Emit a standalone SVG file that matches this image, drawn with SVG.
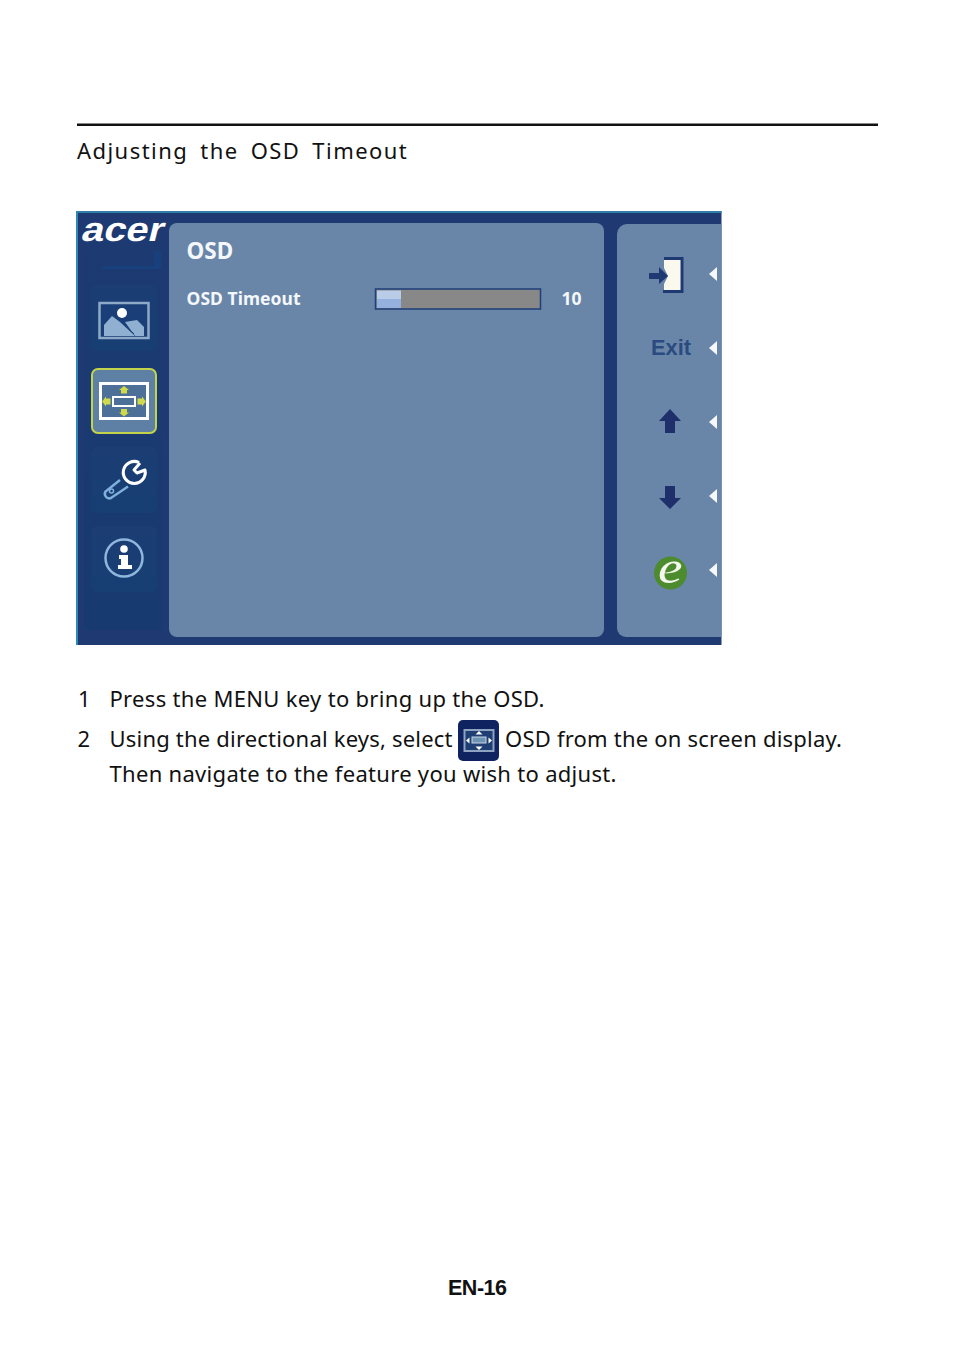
<svg xmlns="http://www.w3.org/2000/svg" width="954" height="1355" viewBox="0 0 954 1355">
<style>
.b{font-family:"Noto Sans","Open Sans",sans-serif;font-size:22px;fill:#111}
.o{font-family:"Noto Sans","Open Sans",sans-serif;font-weight:700;fill:#f4f7fb}
.tri{fill:#f6f8fa}
.dk{fill:#1f3a73}
</style>
<defs>
<linearGradient id="side" x1="0" y1="0" x2="0" y2="1"><stop offset="0" stop-color="#1d3a72"/><stop offset="1" stop-color="#173a70"/></linearGradient>
<linearGradient id="cell" x1="0" y1="0" x2="0" y2="1"><stop offset="0" stop-color="#1b3d74"/><stop offset="1" stop-color="#173f74"/></linearGradient>
</defs>
<rect width="954" height="1355" fill="#fff"/>
<rect x="77" y="123.500" width="801" height="2.500" fill="#111"/>
<text id="title" class="b" x="77" y="159" style="letter-spacing:1.45px;word-spacing:4.9px">Adjusting the OSD Timeout</text>

<g id="osd-window">
<rect x="76" y="211" width="645.500" height="434" fill="#1f3a73"/>
<rect x="76" y="211" width="645.500" height="2" fill="#2f7fa8"/>
<rect x="76" y="211" width="2" height="434" fill="#2a8cb4"/>
<rect x="84" y="222" width="77" height="408" fill="url(#side)"/>
<path d="M154 251h7v18h-60v-3h53Z" fill="#17407c"/>
<rect x="169" y="223" width="435" height="414" rx="8" fill="#6986a8"/>
<path d="M721.500 224H627a10 10 0 0 0-10 10V628a9 9 0 0 0 9 9H721.500Z" fill="#6986a8"/>
</g>

<g id="acer-logo">
<text transform="translate(80 241) skewX(-14)" x="0" y="0" font-family="'Liberation Sans',sans-serif" font-weight="700" font-size="34" fill="#fff" textLength="82" lengthAdjust="spacingAndGlyphs">acer</text>
</g>

<g id="icon-picture">
<rect x="91" y="285" width="66" height="66" rx="6" fill="url(#cell)"/>
<rect x="99.500" y="303" width="49" height="35" fill="#1a3f78" stroke="#8fa9c8" stroke-width="2.500"/>
<circle cx="122" cy="313" r="5" fill="#fff"/>
<path d="M104 336V325L112 316L120 322L134 335V336Z" fill="#8fb0d0"/>
<path d="M125 322L137 320L144 327V336H135Z" fill="#8fb0d0"/>
<path d="M120 320L134 334" fill="none" stroke="#1a3f78" stroke-width="1"/>
</g>

<g id="icon-osd">
<rect x="92" y="369" width="64" height="64" rx="6" fill="#5d80a4" stroke="#c3d44a" stroke-width="2"/>
<rect x="100.500" y="383.500" width="47" height="35" fill="#4c7098" stroke="#fff" stroke-width="3"/>
<rect x="113" y="397" width="22" height="9" fill="none" stroke="#fff" stroke-width="2"/>
<path d="M124 386l5 4-2 0v3.500h-6v-3.500h-2ZM124 416.500l5-4h-2v-3.500h-6v3.500h-2ZM102 401.500l4-5v2h4.500v6h-4.500v2ZM146 401.500l-4-5v2h-4.500v6h4.500v2Z" fill="#cfd94a"/>
</g>

<g id="icon-wrench">
<rect x="91" y="447" width="66" height="66" rx="6" fill="url(#cell)"/>
<path d="M120 480L105.500 491.500A4.500 4.500 0 0 0 111 498L128 486.500" fill="none" stroke="#7fb0dc" stroke-width="2.500"/>
<circle cx="111.500" cy="491" r="2" fill="none" stroke="#7fb0dc" stroke-width="1.500"/>
<path d="M139 462.500A11 11 0 1 0 145 470L137 473L134 470L140 463" fill="none" stroke="#fff" stroke-width="3" stroke-linejoin="round"/>
</g>

<g id="icon-info">
<rect x="91" y="526" width="66" height="66" rx="6" fill="url(#cell)"/>
<circle cx="124" cy="558" r="18.500" fill="none" stroke="#8fb6dc" stroke-width="2.500"/>
<circle cx="124" cy="549" r="3.800" fill="#fff"/>
<path d="M119 555h9v10h4v4h-14v-4h3v-6h-2Z" fill="#fff"/>
</g>

<g id="osd-heading"><text class="o" x="186.500" y="259" font-size="22.500">OSD</text></g>
<g id="osd-timeout">
<text class="o" x="186.500" y="305" font-size="17.500" textLength="114">OSD Timeout</text>
<rect x="375.500" y="289" width="165" height="20" fill="#888" stroke="#1e3f78" stroke-width="1.500"/>
<rect x="377" y="290.500" width="24" height="8.500" fill="#b9cde9"/>
<rect x="377" y="299" width="24" height="9" fill="#94b0de"/>
<text class="o" x="561.500" y="305" font-size="17.500">10</text>
</g>

<g id="btn-enter">
<path d="M664 258.500H682V291.500H664V284L668 276L664 268Z" fill="#fbf9ee"/>
<path d="M664 258.500H682V291.500H663" fill="none" stroke="#1f3a73" stroke-width="3"/>
<path d="M649 273H659V267L668 276L659 284V279H649Z" class="dk"/>
<path class="tri" d="M717 267V281L709 274Z"/>
</g>
<g id="btn-exit">
<text x="651" y="355" font-family="'Liberation Sans',sans-serif" font-weight="700" font-size="22.500" fill="#2a4a80" textLength="40" lengthAdjust="spacingAndGlyphs">Exit</text>
<path class="tri" d="M717 341V355L709 348Z"/>
</g>
<g id="btn-up">
<path d="M670 409L681 421H675V433H665V421H659Z" fill="#1e2f6b"/>
<path class="tri" d="M717 415V429L709 422Z"/>
</g>
<g id="btn-down">
<path d="M665 486H675V498H681L670 509L659 498H665Z" fill="#1e2f6b"/>
<path class="tri" d="M717 489V503L709 496Z"/>
</g>
<g id="btn-e">
<circle cx="670.500" cy="573" r="16.500" fill="#4c8c2e"/>
<text transform="translate(658 583) scale(1.2 1)" x="0" y="0" font-family="'Liberation Serif',serif" font-style="italic" font-size="46" fill="#f5f7ee">e</text>
<path class="tri" d="M717 563V577L709 570Z"/>
</g>

<text class="b" x="78" y="707">1</text>
<text class="b" x="109.500" y="707" textLength="435">Press the MENU key to bring up the OSD.</text>
<text class="b" x="77.500" y="747">2</text>
<text class="b" x="109.500" y="747" textLength="343">Using the directional keys, select</text>
<g id="inline-icon">
<rect x="458" y="720" width="41" height="41" rx="5" fill="#0f2360"/>
<rect x="464.500" y="730" width="29" height="21" fill="#1f3f74" stroke="#8da3bf" stroke-width="2"/>
<rect x="472" y="737" width="14" height="6" fill="#6d94b4" stroke="#c8d6e4" stroke-width="1"/>
<path d="M479 731l3.500 3.500h-7ZM479 750l3.500-3.500h-7ZM466 740.500l3.500-3v6ZM492 740.500l-3.500-3v6Z" fill="#fff"/>
</g>
<text class="b" x="505" y="747" textLength="337">OSD from the on screen display.</text>
<text class="b" x="109.500" y="782" textLength="507">Then navigate to the feature you wish to adjust.</text>
<text x="477.500" y="1295" text-anchor="middle" font-family="'Liberation Sans',sans-serif" font-weight="700" font-size="21.500" fill="#111" textLength="59">EN-16</text>
</svg>
